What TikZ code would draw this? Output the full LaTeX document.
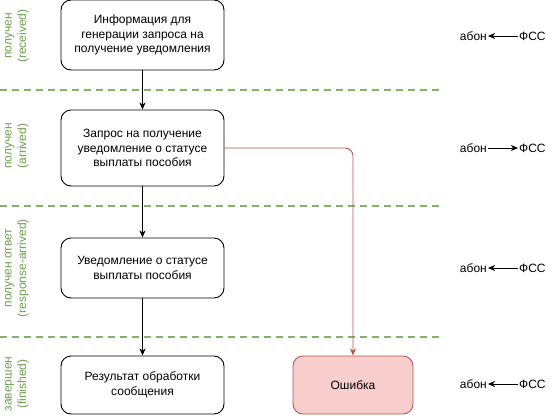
\documentclass[tikz,border=0pt]{standalone}
\usepackage{fontspec}
\setmainfont{Liberation Sans}
\usetikzlibrary{arrows.meta}
\definecolor{grn}{HTML}{82B366}
\definecolor{grntxt}{HTML}{6D9F4E}
\definecolor{redst}{HTML}{B85450}
\definecolor{redfl}{HTML}{F8CECC}
\tikzset{
  box/.style={draw, rounded corners=10pt, line width=0.9pt, minimum width=163pt, align=center,
    font=\fontsize{12}{14.5}\selectfont, inner sep=0pt},
  errbox/.style={box, draw=redst, fill=redfl, minimum width=120pt, minimum height=58pt},
  sep/.style={grn, line width=1.6pt, dash pattern=on 7pt off 5pt},
  phase/.style={rotate=90, text=grntxt, align=center, font=\fontsize{12}{14.5}\selectfont, inner sep=0pt},
  lbl/.style={font=\fontsize{12}{14}\selectfont, inner sep=1pt},
  arr/.style={-{Stealth[length=7pt,width=6pt,inset=2pt]}, line width=0.9pt},
}
\begin{document}
\begin{tikzpicture}[x=1pt,y=-1pt]
\useasboundingbox (0,0) rectangle (558,416);
% separators
\draw[sep] (0,90) -- (441,90);
\draw[sep] (0,206) -- (441,206);
\draw[sep] (0,337) -- (441,337);
% phase labels
\node[phase] (p1) at (17,36) {получен\\(received)};
\node[phase] (p2) at (17,146) {получен\\(arrived)};
\node[phase] (p3) at (17,268) {получен ответ\\(response-arrived)};
\node[phase] (p4) at (17,384) {завершен\\(finished)};
% boxes
\node[box, minimum height=70pt] (b1) at (142.5,35) {Информация для\\генерации запроса на\\получение уведомления};
\node[box, minimum height=76pt] (b2) at (142.5,148) {Запрос на получение\\уведомление о статусе\\выплаты пособия};
\node[box, minimum height=60pt] (b3) at (142.5,268) {Уведомление о статусе\\выплаты пособия};
\node[box, minimum height=58pt] (b4) at (142.5,385) {Результат обработки\\сообщения};
\node[errbox] (e) at (353,385) {Ошибка};
% connectors
\draw[arr] (b1) -- (b2);
\draw[arr] (b2) -- (b3);
\draw[arr] (b3) -- (b4);
\draw[arr, redst, rounded corners=8pt] (b2.east |- 0,148) -- (353,148) -- (e.north);
% right labels
\node[lbl, anchor=east] (a1) at (488,36) {абон};
\node[lbl, anchor=west] (f1) at (518,36) {ФСС};
\draw[arr] (f1) -- (a1);
\node[lbl, anchor=east] (a2) at (488,148) {абон};
\node[lbl, anchor=west] (f2) at (518,148) {ФСС};
\draw[arr] (a2) -- (f2);
\node[lbl, anchor=east] (a3) at (488,268) {абон};
\node[lbl, anchor=west] (f3) at (518,268) {ФСС};
\draw[arr] (f3) -- (a3);
\node[lbl, anchor=east] (a4) at (488,384) {абон};
\node[lbl, anchor=west] (f4) at (518,384) {ФСС};
\draw[arr] (f4) -- (a4);
\end{tikzpicture}
\end{document}
